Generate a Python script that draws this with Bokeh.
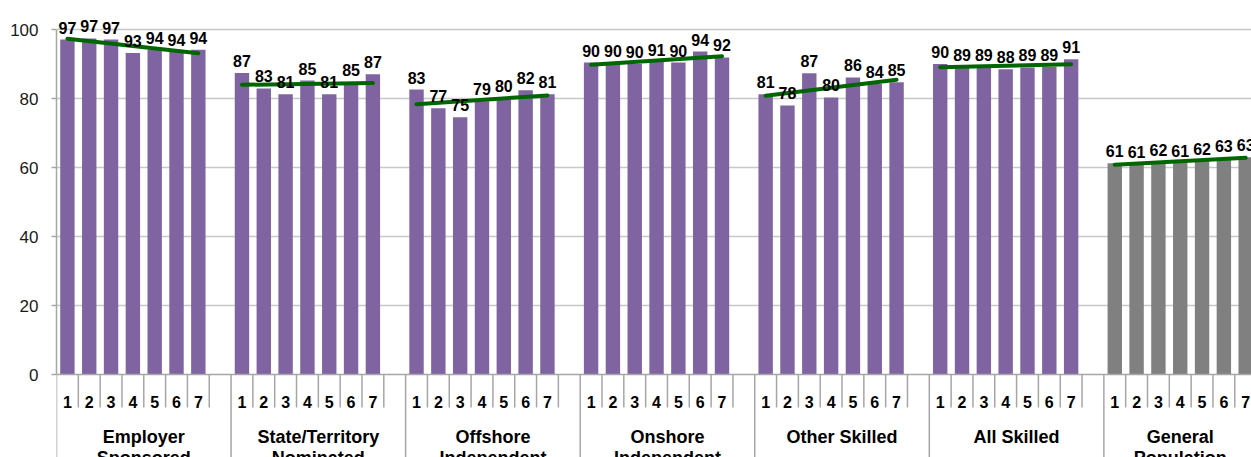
import numpy as np
from bokeh.plotting import figure
from bokeh.models import Range1d, FixedTicker, ColumnDataSource
from bokeh.core.properties import value
from bokeh.embed import file_html
from bokeh.resources import INLINE

# ---- data ----
groups_line1 = ["Employer", "State/Territory", "Offshore", "Onshore", "Other Skilled", "All Skilled", "General"]
groups_line2 = ["Sponsored", "Nominated", "Independent", "Independent", "", "", "Population"]
waves = ["1", "2", "3", "4", "5", "6", "7"]
employer = [97.1, 97.4, 97.1, 93.2, 94.1, 93.6, 94.1]
state_territory = [87.4, 82.9, 81.2, 85.2, 81.2, 84.8, 87.0]
offshore = [82.6, 77.2, 74.6, 79.2, 80.1, 82.4, 81.2]
onshore = [90.4, 90.2, 90.1, 90.6, 90.4, 93.6, 91.9]
other_skilled = [81.2, 78.0, 87.3, 80.3, 86.1, 84.2, 84.7]
all_skilled = [90.0, 89.2, 89.1, 88.5, 89.0, 89.2, 91.4]
general_pop = [61.2, 61.0, 61.6, 61.3, 61.8, 62.8, 63.0]
series = [employer, state_territory, offshore, onshore, other_skilled, all_skilled, general_pop]
bar_colors = ["#8064A2"] * 6 + ["#808080"]
y_ticks = [0, 20, 40, 60, 80, 100]

SLOTS = 8  # 7 bars + 1 spacer per group
PX_PER_UNIT = 3.45

W, H = 1251, 457
p = figure(width=W, height=H, output_backend="svg", toolbar_location=None,
           x_axis_location=None, y_axis_location="left",
           x_range=Range1d(0, (W - 56) / 21.82),
           y_range=Range1d(-(H - 374) / PX_PER_UNIT, 374 / PX_PER_UNIT),
           min_border_left=56, min_border_right=0, min_border_top=0, min_border_bottom=0)
p.outline_line_color = None
p.background_fill_color = "white"
p.border_fill_color = "white"
p.xgrid.grid_line_color = None

ax = p.yaxis[0]
ax.ticker = FixedTicker(ticks=y_ticks)
ax.bounds = (0, 100)
ax.axis_line_color = "#A6A6A6"
ax.axis_line_width = 1.5
ax.major_tick_line_color = "#A6A6A6"
ax.major_tick_line_width = 1.5
ax.major_tick_out = 5
ax.major_tick_in = 0
ax.minor_tick_line_color = None
ax.major_label_standoff = 13
ax.major_label_text_font = "Liberation Sans"
ax.major_label_text_font_size = "17px"
ax.major_label_text_color = "#1a1a1a"

p.ygrid.ticker = FixedTicker(ticks=[20, 40, 60, 80, 100])
p.ygrid.grid_line_color = "#C8C8C8"
p.ygrid.grid_line_width = 1.5

# bars
xs, tops, cols, labels = [], [], [], []
for g, vals in enumerate(series):
    for k, v in enumerate(vals):
        xs.append(g * SLOTS + k + 0.5)
        tops.append(v)
        cols.append(bar_colors[g])
        labels.append(str(int(round(v))))
src = ColumnDataSource(dict(x=xs, top=tops, color=cols, label=labels))
p.vbar(x="x", top="top", bottom=0, width=0.66, fill_color="color", line_color=None, source=src)

# trend lines
for g, vals in enumerate(series):
    kx = np.arange(1, len(vals) + 1)
    slope, icpt = np.polyfit(kx, vals, 1)
    x0, x1 = g * SLOTS + 0.5, g * SLOTS + len(vals) - 0.5
    p.line([x0, x1], [icpt + slope * 1, icpt + slope * len(vals)],
           line_color="#006600", line_width=4, line_cap="round")

# data labels
p.text(x="x", y="top", text="label", source=src, text_align="center", text_baseline="alphabetic",
       y_offset=-12, text_font=value("Liberation Sans"), text_font_style="bold",
       text_font_size="16px", text_color="#000000")

# category axis
axis_col = "#A6A6A6"
n_slots = len(series) * SLOTS - 1
p.segment(x0=[0], y0=[0], x1=[n_slots], y1=[0], line_color=axis_col, line_width=1.5)
bx, by0, by1 = [], [], []
for i in range(0, n_slots):
    bx.append(i)
    by0.append(0)
    by1.append(-40 if i % SLOTS == 0 else -(407 - 374) / PX_PER_UNIT)
p.segment(x0=bx, y0=by0, x1=bx, y1=by1, line_color=axis_col, line_width=1.5)

wx, wt = [], []
for g in range(len(series)):
    for k in range(len(waves)):
        wx.append(g * SLOTS + k + 0.5)
        wt.append(waves[k])
p.text(x=wx, y=[-(401.3 - 374) / PX_PER_UNIT] * len(wx), text=wt, text_align="center",
       text_baseline="alphabetic", text_font=value("Liberation Sans"), text_font_style="bold",
       text_font_size="16px", text_color="#000000")

gx = [g * SLOTS + (SLOTS / 2 if g < len(series) - 1 else 3.5) for g in range(len(series))]
p.text(x=gx, y=[-(436 - 374) / PX_PER_UNIT] * len(gx), text=groups_line1, text_align="center",
       text_baseline="alphabetic", text_font=value("Liberation Sans"), text_font_style="bold",
       text_font_size="18px", text_color="#000000")
p.text(x=gx, y=[-(457.8 - 374) / PX_PER_UNIT] * len(gx), text=groups_line2, text_align="center",
       text_baseline="alphabetic", text_font=value("Liberation Sans"), text_font_style="bold",
       text_font_size="18px", text_color="#000000")

open("out.html", "w").write(file_html(p, INLINE))
